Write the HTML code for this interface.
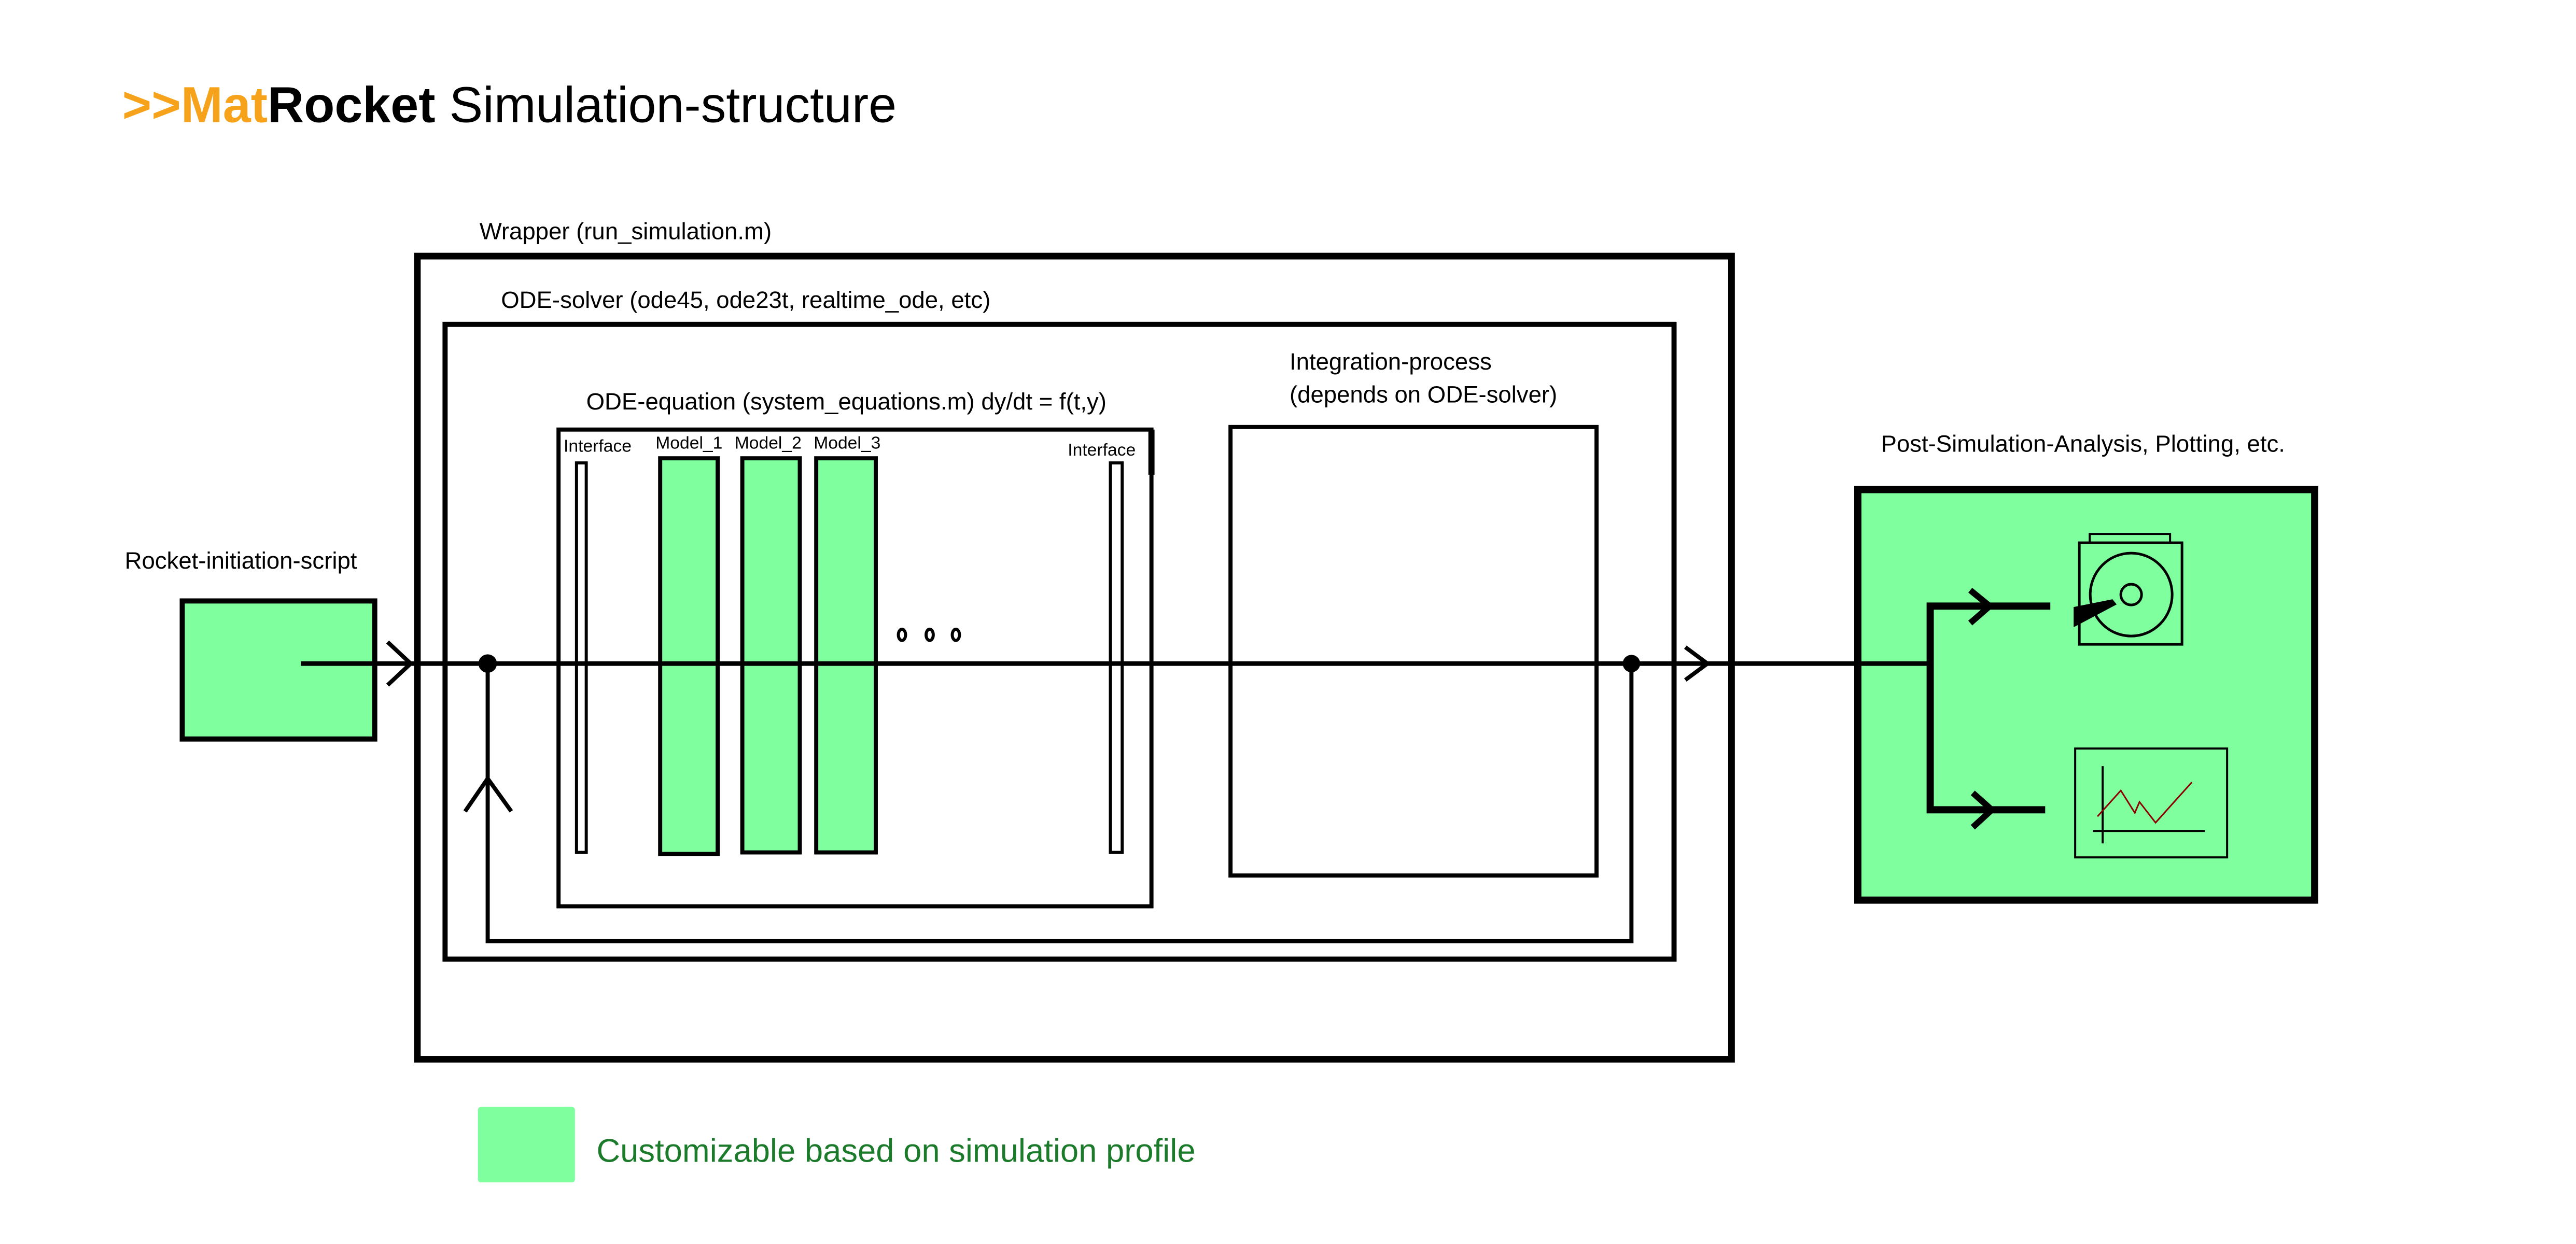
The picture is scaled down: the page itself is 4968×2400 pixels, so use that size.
<!DOCTYPE html>
<html><head><meta charset="utf-8"><style>
html,body{margin:0;padding:0;background:#fff;}
svg{display:block;}
text{font-family:"Liberation Sans",sans-serif;}
</style></head><body>
<svg width="4968" height="2400" viewBox="0 0 5018 2424" xmlns="http://www.w3.org/2000/svg">
<rect width="5018" height="2424" fill="#fff"/>
<text x="238" y="238" font-size="98"><tspan fill="#f6a21b" font-weight="bold">&gt;&gt;Mat</tspan><tspan font-weight="bold" fill="#000">Rocket</tspan><tspan fill="#000"> Simulation-structure</tspan></text>

<text x="934" y="466" font-size="46">Wrapper (run_simulation.m)</text>
<rect x="813" y="499" width="2560" height="1565" fill="none" stroke="#000" stroke-width="13"/>
<text x="976" y="600" font-size="46">ODE-solver (ode45, ode23t, realtime_ode, etc)</text>
<rect x="867" y="632" width="2394" height="1237" fill="none" stroke="#000" stroke-width="10"/>
<text x="1142" y="798" font-size="46">ODE-equation (system_equations.m) dy/dt = f(t,y)</text>
<rect x="1088" y="837" width="1155" height="929" fill="none" stroke="#000" stroke-width="8"/>
<line x1="2243" y1="837" x2="2243" y2="925" stroke="#000" stroke-width="12"/>

<text x="1098" y="880" font-size="34">Interface</text>
<rect x="1123" y="902" width="19" height="759" fill="#fff" stroke="#000" stroke-width="6"/>
<text x="1277" y="874" font-size="34">Model_1</text>
<text x="1431" y="874" font-size="34">Model_2</text>
<text x="1585" y="874" font-size="34">Model_3</text>
<rect x="1286" y="893" width="112" height="771" fill="#80ff9f" stroke="#000" stroke-width="8"/>
<rect x="1446" y="893" width="112" height="768" fill="#80ff9f" stroke="#000" stroke-width="8"/>
<rect x="1590" y="893" width="116" height="768" fill="#80ff9f" stroke="#000" stroke-width="8"/>
<text x="2080" y="888" font-size="34">Interface</text>
<rect x="2163" y="902" width="23" height="759" fill="#fff" stroke="#000" stroke-width="6"/>
<ellipse cx="1757" cy="1237" rx="7" ry="11" fill="none" stroke="#000" stroke-width="6"/>
<ellipse cx="1811" cy="1237" rx="7" ry="11" fill="none" stroke="#000" stroke-width="6"/>
<ellipse cx="1862" cy="1237" rx="7" ry="11" fill="none" stroke="#000" stroke-width="6"/>

<text x="2512" y="720" font-size="46">Integration-process</text>
<text x="2512" y="784" font-size="46">(depends on ODE-solver)</text>
<rect x="2397" y="832" width="713" height="874" fill="none" stroke="#000" stroke-width="8"/>

<text x="243" y="1108" font-size="46">Rocket-initiation-script</text>
<rect x="355" y="1171" width="375" height="269" fill="#80ff9f" stroke="#000" stroke-width="10"/>

<line x1="586" y1="1293" x2="3760" y2="1293" stroke="#000" stroke-width="9"/>
<polyline points="755,1251 800,1293 755,1335" fill="none" stroke="#000" stroke-width="8"/>
<circle cx="950" cy="1293" r="18" fill="#000"/>
<path d="M950 1293 V1834 H3178 V1293" fill="none" stroke="#000" stroke-width="8"/>
<polyline points="906,1581 950,1517 996,1581" fill="none" stroke="#000" stroke-width="8"/>
<circle cx="3178" cy="1293" r="17" fill="#000"/>
<polyline points="3283,1261 3326,1293 3283,1325" fill="none" stroke="#000" stroke-width="8"/>

<text x="3664" y="880" font-size="46">Post-Simulation-Analysis, Plotting, etc.</text>
<rect x="3619" y="954" width="890" height="800" fill="#80ff9f" stroke="#000" stroke-width="14"/>
<line x1="3619" y1="1293" x2="3760" y2="1293" stroke="#000" stroke-width="9"/>
<path d="M3994 1181 H3760 V1578 H3984" fill="none" stroke="#000" stroke-width="14"/>
<polyline points="3838,1150 3876,1181 3838,1214" fill="none" stroke="#000" stroke-width="12"/>
<polyline points="3843,1545 3880,1578 3843,1612" fill="none" stroke="#000" stroke-width="12"/>

<g transform="scale(1.0101)">
<rect x="4030" y="1030" width="155" height="17" fill="none" stroke="#000" stroke-width="4"/>
<rect x="4010" y="1047" width="198" height="196" fill="#80ff9f" stroke="#000" stroke-width="5"/>
<ellipse cx="4110" cy="1147" rx="79" ry="80" fill="none" stroke="#000" stroke-width="5"/>
<ellipse cx="4110" cy="1147" rx="20" ry="20" fill="none" stroke="#000" stroke-width="5"/>
<polygon points="3999,1171 4074,1156 4082,1166 3999,1210" fill="#000"/>

<rect x="4002" y="1444" width="293" height="210" fill="none" stroke="#000" stroke-width="4"/>
<line x1="4055" y1="1478" x2="4055" y2="1627" stroke="#000" stroke-width="4"/>
<line x1="4036" y1="1603" x2="4252" y2="1603" stroke="#000" stroke-width="4"/>
<polyline points="4045,1575 4090,1525 4117,1568 4126,1547 4157,1587 4227,1509" fill="none" stroke="#8b0000" stroke-width="3"/>
</g>

<rect x="931" y="2157" width="189" height="147" rx="6" fill="#80ff9f"/>
<text x="1162" y="2264" font-size="64" fill="#1b7b2b">Customizable based on simulation profile</text>
</svg>
</body></html>
